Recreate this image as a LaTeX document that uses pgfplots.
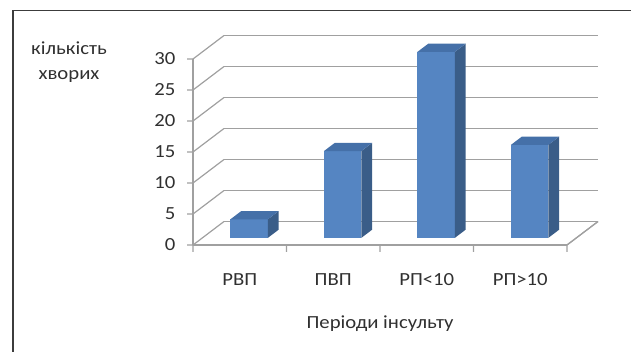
\documentclass[border=0pt]{standalone}
\usepackage{pgfplots}
\pgfplotsset{compat=1.18}
\usepackage{fontspec}
\setmainfont{Carlito}[FakeStretch=1.12]
\definecolor{barfront}{HTML}{5585C2}
\definecolor{bartop}{HTML}{4570A8}
\definecolor{barside}{HTML}{3A5D88}
\definecolor{gridc}{HTML}{A0A0A0}
\definecolor{framec}{HTML}{3C3C3C}
\definecolor{txt}{HTML}{303030}
\begin{document}
\begin{tikzpicture}
\path[use as bounding box] (0,0) rectangle (631pt,352pt);
\draw[framec, line width=1.6pt] (13pt,0) -- (13pt,341.5pt) -- (631pt,341.5pt);
\begin{axis}[
  at={(239.75pt,107pt)}, anchor=origin,
  x={(93.5pt,0pt)}, y={(31pt,23.5pt)}, z={(0pt,6.2pt)},
  xmin=-0.5, xmax=3.5, ymin=0, ymax=1, zmin=0, zmax=30,
  axis lines*=left,
  axis line style={gridc, line width=1.2pt},
  zmajorgrids, major grid style={gridc, line width=1.2pt},
  xtick={0,1,2,3}, xticklabels={РВП,ПВП,РП<10,РП>10},
  ytick=\empty,
  ztick={0,5,...,30},
  /pgf/number format/assume math mode=true,
  major tick length=0pt,
  clip=false,
  tick label style={font=\fontsize{18.5}{22}\selectfont, text=txt},
  xticklabel style={anchor=center, yshift=-35pt},
  zticklabel style={anchor=east, xshift=-14pt},
  xlabel={Періоди інсульту}, zlabel={кількість\\хворих},
  every axis x label/.style={at={(axis cs:1.5,0,-12.66)}, anchor=center, font=\fontsize{18.5}{22}\selectfont, text=txt},
  every axis z label/.style={at={(axis cs:-1.826,0,29.5)}, anchor=center, align=center, font=\fontsize{18.5}{25}\selectfont, text=txt},
]
% tick marks and floor edge
\addplot3[gridc, line width=1.2pt, unbounded coords=jump] coordinates {
 (-0.5,0,0) (-0.5,0,-1.1) (nan,nan,nan)
 (0.5,0,0) (0.5,0,-1.1) (nan,nan,nan)
 (1.5,0,0) (1.5,0,-1.1) (nan,nan,nan)
 (2.5,0,0) (2.5,0,-1.1) (nan,nan,nan)
 (3.5,0,0) (3.5,0,-1.1) (nan,nan,nan)
 (3.5,0,0) (3.5,1,0) (nan,nan,nan)
 (-0.564,0,0) (-0.5,0,0) (nan,nan,nan)
 (-0.564,0,5) (-0.5,0,5) (nan,nan,nan)
 (-0.564,0,10) (-0.5,0,10) (nan,nan,nan)
 (-0.564,0,15) (-0.5,0,15) (nan,nan,nan)
 (-0.564,0,20) (-0.5,0,20) (nan,nan,nan)
 (-0.564,0,25) (-0.5,0,25) (nan,nan,nan)
 (-0.564,0,30) (-0.5,0,30)
};
% bar 1: РВП = 3
\addplot3[fill=barfront, draw=none] coordinates {(-0.2,0.3,0) (0.2,0.3,0) (0.2,0.3,3) (-0.2,0.3,3)};
\addplot3[fill=barside, draw=none] coordinates {(0.2,0.3,0) (0.2,0.65,0) (0.2,0.65,3) (0.2,0.3,3)};
\addplot3[fill=bartop, draw=none] coordinates {(-0.2,0.3,3) (0.2,0.3,3) (0.2,0.65,3) (-0.2,0.65,3)};
% bar 2: ПВП = 14
\addplot3[fill=barfront, draw=none] coordinates {(0.8,0.3,0) (1.2,0.3,0) (1.2,0.3,14) (0.8,0.3,14)};
\addplot3[fill=barside, draw=none] coordinates {(1.2,0.3,0) (1.2,0.65,0) (1.2,0.65,14) (1.2,0.3,14)};
\addplot3[fill=bartop, draw=none] coordinates {(0.8,0.3,14) (1.2,0.3,14) (1.2,0.65,14) (0.8,0.65,14)};
% bar 3: РП<10 = 30
\addplot3[fill=barfront, draw=none] coordinates {(1.8,0.3,0) (2.2,0.3,0) (2.2,0.3,30) (1.8,0.3,30)};
\addplot3[fill=barside, draw=none] coordinates {(2.2,0.3,0) (2.2,0.65,0) (2.2,0.65,30) (2.2,0.3,30)};
\addplot3[fill=bartop, draw=none] coordinates {(1.8,0.3,30) (2.2,0.3,30) (2.2,0.65,30) (1.8,0.65,30)};
% bar 4: РП>10 = 15
\addplot3[fill=barfront, draw=none] coordinates {(2.8,0.3,0) (3.2,0.3,0) (3.2,0.3,15) (2.8,0.3,15)};
\addplot3[fill=barside, draw=none] coordinates {(3.2,0.3,0) (3.2,0.65,0) (3.2,0.65,15) (3.2,0.3,15)};
\addplot3[fill=bartop, draw=none] coordinates {(2.8,0.3,15) (3.2,0.3,15) (3.2,0.65,15) (2.8,0.65,15)};
\end{axis}
\end{tikzpicture}
\end{document}
